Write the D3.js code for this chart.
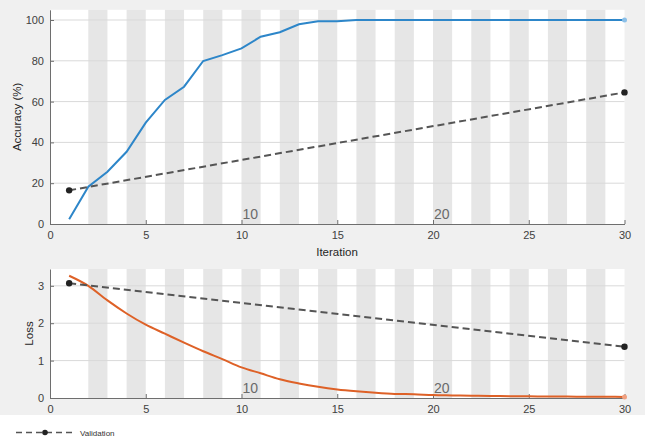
<!DOCTYPE html>
<html><head><meta charset="utf-8">
<script src="https://cdn.jsdelivr.net/npm/d3@7"></script>
<style>
html,body{margin:0;padding:0;background:#fff;}
svg{display:block;font-family:"Liberation Sans",Arial,sans-serif;}
</style></head>
<body>
<svg id="c" width="647" height="438"></svg>
<script>
// ---- data ----
const iterations = d3.range(1, 31);
const trainAcc = [2.3, 18.3, 25.6, 35.4, 49.7, 60.8, 67.3, 79.9, 82.8, 86.1, 91.8, 94.0, 97.9, 99.4, 99.4,
  100, 100, 100, 100, 100, 100, 100, 100, 100, 100, 100, 100, 100, 100, 100];
const trainLoss = [3.27, 3.0, 2.61, 2.26, 1.96, 1.72, 1.48, 1.25, 1.04, 0.82, 0.66, 0.5, 0.39, 0.3, 0.23,
  0.18, 0.14, 0.11, 0.1, 0.08, 0.07, 0.06, 0.055, 0.05, 0.045, 0.04, 0.038, 0.035, 0.033, 0.03];
const valIter = [1, 30];
const valAcc = [16.5, 64.5];
const valLoss = [3.07, 1.37];
const epochLabels = [10, 20];
const bandStarts = [2, 4, 6, 8, 10, 12, 14, 16, 18, 20, 22, 24, 26, 28];
const xTicks = [0, 5, 10, 15, 20, 25, 30];
const accTicks = [0, 20, 40, 60, 80, 100];
const lossTicks = [0, 1, 2, 3];

const svg = d3.select("#c");
svg.append("rect").attr("x",0).attr("y",0).attr("width",645).attr("height",415).attr("fill","#f0f0f0");

const x = d3.scaleLinear().domain([0, 30]).range([50, 624.5]);
const yA = d3.scaleLinear().domain([0, 105]).range([224, 9.8]);
const yL = d3.scaleLinear().domain([0, 3.45]).range([398, 269]);

const blue = "#2d86c9", orange = "#de6127", dash = "#555";

function panel(y, yTicks, trainVals, valVals, label, labelX) {
  const g = svg.append("g");
  const [y0, y1] = y.range();
  g.append("rect").attr("x", x(0)).attr("y", y1).attr("width", x(30)-x(0)).attr("height", y0-y1).attr("fill","#fff");
  g.selectAll(".band").data(bandStarts).enter().append("rect")
    .attr("x", d => x(d)).attr("width", d => x(d+1)-x(d))
    .attr("y", y1).attr("height", y0-y1).attr("fill","#e6e6e6");
  g.selectAll(".grid").data(yTicks.filter(d=>d>0)).enter().append("line")
    .attr("x1", x(0)).attr("x2", x(30)).attr("y1", d=>y(d)).attr("y2", d=>y(d))
    .attr("stroke","#d9d9d9").attr("stroke-width",1);
  // epoch labels
  g.selectAll(".ep").data(epochLabels).enter().append("text")
    .attr("x", d => x(d)+1).attr("y", y0-5).text(d=>d)
    .attr("font-size", 14).attr("fill","#6a6a6a");
  // axes
  const xa = g.append("g").attr("transform",`translate(0,${y0})`)
    .call(d3.axisBottom(x).tickValues(xTicks).tickFormat(d3.format("d")).tickSizeInner(-4).tickSizeOuter(0).tickPadding(7));
  const ya = g.append("g").attr("transform",`translate(${x(0)},0)`)
    .call(d3.axisLeft(y).tickValues(yTicks).tickFormat(d3.format("d")).tickSizeInner(-4).tickSizeOuter(0).tickPadding(6));
  [xa, ya].forEach(a => {
    a.select(".domain").attr("stroke","#6e6e6e");
    a.selectAll(".tick line").attr("stroke","#6e6e6e");
    a.selectAll(".tick text").attr("fill","#404040").attr("font-size",11).attr("font-family","Liberation Sans, Arial, sans-serif");
  });
  // training line
  const line = d3.line().curve(d3.curveMonotoneX).x((d,i)=>x(iterations[i])).y(d=>y(d));
  const lineAcc = d3.line().x((d,i)=>x(iterations[i])).y(d=>y(d));
  g.append("path").datum(trainVals).attr("d", label==="Loss"?line:lineAcc).attr("fill","none")
    .attr("stroke", label==="Loss"?orange:blue).attr("stroke-width",2);
  g.append("circle").attr("cx", x(30)).attr("cy", y(trainVals[29])).attr("r",2.5)
    .attr("fill", label==="Loss"?"#f0a080":"#8cc0e8");
  // validation
  const vline = d3.line().x((d,i)=>x(valIter[i])).y(d=>y(d));
  g.append("path").datum(valVals).attr("d", vline).attr("fill","none")
    .attr("stroke", dash).attr("stroke-width",2).attr("stroke-dasharray","7,4");
  g.selectAll(".vm").data(valVals).enter().append("circle")
    .attr("cx",(d,i)=>x(valIter[i])).attr("cy",d=>y(d)).attr("r",3.2).attr("fill","#222");
  // y label
  g.append("text").attr("transform",`translate(${labelX},${(y0+y1)/2}) rotate(-90)`)
    .attr("text-anchor","middle").attr("font-size",11.5).attr("fill","#262626").text(label);
}

panel(yA, accTicks, trainAcc, valAcc, "Accuracy (%)", 21);
panel(yL, lossTicks, trainLoss, valLoss, "Loss", 33);

svg.append("text").attr("x", 337).attr("y", 256).attr("text-anchor","middle")
  .attr("font-size",11.5).attr("fill","#262626").text("Iteration");

// legend
const lg = svg.append("g");
lg.append("line").attr("x1",16).attr("x2",74).attr("y1",432.5).attr("y2",432.5)
  .attr("stroke",dash).attr("stroke-width",1.5).attr("stroke-dasharray","6,4");
lg.append("circle").attr("cx",45).attr("cy",432.5).attr("r",2.8).attr("fill","#222");
lg.append("text").attr("x",80).attr("y",435.5).attr("font-size",8).attr("fill","#333").text("Validation");
</script>
</body></html>
